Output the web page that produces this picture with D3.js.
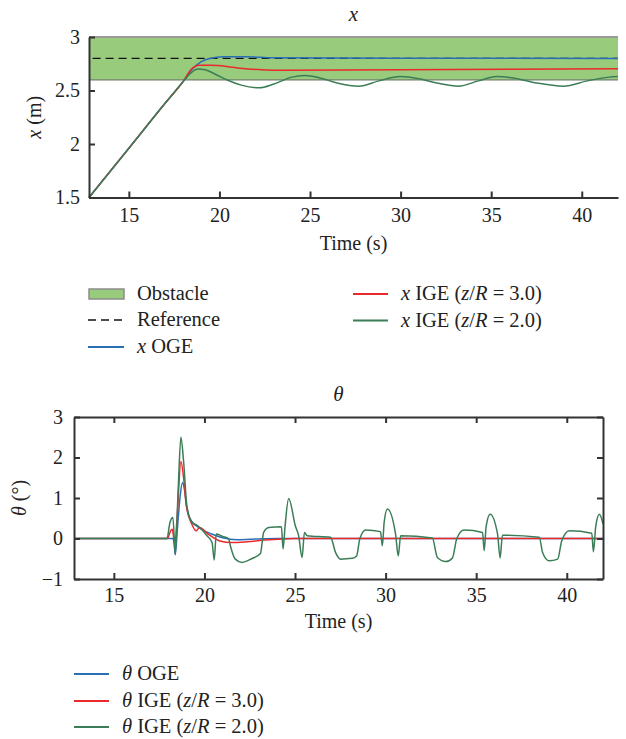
<!DOCTYPE html>
<html>
<head>
<meta charset="utf-8">
<script src="https://cdn.jsdelivr.net/npm/d3@7"></script>
<style>
  body { margin: 0; background: #fff; }
  svg text { fill: #222; }
</style>
</head>
<body>
<div id="chart"></div>
<script>
// time domain shared by both panels
const timeDomain = [12.8, 42];
const timeTicks = [15, 20, 25, 30, 35, 40];

// top panel: x position (m)
const xTicks = [1.5, 2, 2.5, 3];
const obstacleBand = [2.6, 3.0];
const referenceX = [[13, 2.8], [42, 2.8]];
const xOGE = [[12.8, 1.5], [15, 1.96], [17, 2.38], [18.0, 2.585], [18.5, 2.70], [19.0, 2.77], [19.5, 2.80],
  [20.2, 2.815], [21.5, 2.815], [23, 2.805], [42, 2.80]];
const xIGE30 = [[12.8, 1.5], [15, 1.96], [17, 2.38], [18.0, 2.585], [18.4, 2.69], [18.9, 2.735], [19.5, 2.735],
  [20.4, 2.725], [21.3, 2.705], [22.3, 2.695], [23.5, 2.69], [30, 2.693], [42, 2.703]];
const xIGE20 = [[12.8, 1.5], [15, 1.96], [17, 2.38], [18.0, 2.585], [18.4, 2.66], [18.8, 2.70], [19.2, 2.695],
  [19.8, 2.65], [20.4, 2.60], [21.2, 2.55], [22.2, 2.525], [23.0, 2.56], [24.0, 2.625], [24.7, 2.64],
  [25.5, 2.62], [26.5, 2.57], [27.7, 2.54], [28.8, 2.59], [30.0, 2.63], [31.0, 2.61], [32.0, 2.57],
  [33.2, 2.54], [34.3, 2.59], [35.3, 2.63], [36.3, 2.615], [37.5, 2.57], [39.0, 2.54], [40.3, 2.59],
  [41.5, 2.625], [42, 2.63]];

// bottom panel: theta (deg)
const thetaTicks = [-1, 0, 1, 2, 3];
const thetaOGE = [[12.8, 0], [18.25, 0], [18.32, -0.1], [18.39, -0.4], [18.5, 0.2], [18.65, 1.0],
  [18.79, 1.38], [18.9, 1.2], [19.03, 0.75], [19.3, 0.42], [19.8, 0.24], [20.4, 0.11], [21.0, 0.02],
  [21.8, -0.03], [23.0, -0.01], [24, 0], [42, 0]];
const thetaIGE30 = [[12.8, 0], [17.95, 0], [18.15, 0.2], [18.22, 0.23], [18.37, -0.14], [18.5, 0.6],
  [18.7, 1.9], [18.85, 1.5], [19.0, 0.81], [19.3, 0.36], [19.55, 0.19], [19.73, 0.27], [20.2, 0.11],
  [20.85, -0.06], [21.5, -0.1], [22.35, -0.08], [23.3, -0.04], [25, 0], [42, 0]];
const thetaIGE20 = [[12.8, 0], [17.93, 0], [18.1, 0.4], [18.26, 0.52], [18.39, -0.39], [18.55, 1.2],
  [18.7, 2.5], [18.85, 1.9], [19.03, 0.81], [19.31, 0.4], [19.58, 0.33], [19.9, 0.2], [20.14, 0.07],
  [20.42, -0.1], [20.54, -0.53], [20.65, 0.11], [21.0, 0.05], [21.33, 0], [21.43, -0.18], [21.7, -0.51],
  [22.07, -0.59], [22.6, -0.5], [23.09, -0.37], [23.27, 0.15], [23.55, 0.27], [24.25, 0.29], [24.34, -0.26],
  [24.45, 0.3], [24.65, 0.99], [25.02, 0.31], [25.2, 0.07], [25.39, -0.47], [25.52, 0.15], [25.67, 0.07],
  [26.96, 0.03], [27.24, -0.35], [27.51, -0.51], [28.16, -0.49], [28.4, -0.43], [28.58, 0], [28.9, 0.21],
  [29.72, 0.17], [29.82, -0.18], [29.92, 0.4], [30.1, 0.73], [30.55, 0.11], [30.7, -0.43], [30.83, 0.07],
  [32.58, 0.01], [32.86, -0.47], [33.32, -0.57], [33.69, -0.48], [33.93, 0], [34.33, 0.21], [35.35, 0.15],
  [35.44, -0.3], [35.55, 0.3], [35.77, 0.6], [36.18, 0.11], [36.32, -0.48], [36.45, 0.08], [38.48, 0.03],
  [38.67, -0.35], [39.03, -0.55], [39.5, -0.51], [39.72, -0.06], [40.14, 0.19], [41.38, 0.13],
  [41.47, -0.33], [41.6, 0.3], [41.8, 0.6], [42, 0.36]];

const BLUE = "#2a6fb6", RED = "#ea2a2a", GREEN = "#3b7d57", AXIS = "#333";
const SERIF = '"Liberation Serif", "Times New Roman", serif';
const FS = 20;

const svg = d3.select("#chart").append("svg")
  .attr("width", 626).attr("height", 739)
  .attr("font-family", SERIF);

function styleAxis(g) {
  g.attr("font-family", SERIF);
  g.select(".domain").attr("stroke", AXIS).attr("stroke-width", 2);
  g.selectAll(".tick line").attr("stroke", AXIS).attr("stroke-width", 2);
  g.selectAll(".tick text").attr("font-size", FS).attr("fill", "#222");
}

// ---------- top panel ----------
const box1 = {left: 89, right: 618, top: 37, bottom: 197.5};
const xs1 = d3.scaleLinear().domain(timeDomain).range([box1.left, box1.right]);
const ys1 = d3.scaleLinear().domain([1.5, 3]).range([box1.bottom, box1.top]);
const line1 = d3.line().x(d => xs1(d[0])).y(d => ys1(d[1])).curve(d3.curveMonotoneX);

const p1 = svg.append("g");
p1.append("rect")
  .attr("x", xs1(timeDomain[0])).attr("width", xs1(timeDomain[1]) - xs1(timeDomain[0]))
  .attr("y", ys1(obstacleBand[1])).attr("height", ys1(obstacleBand[0]) - ys1(obstacleBand[1]))
  .attr("fill", "#98cb7c");
p1.append("line").attr("x1", box1.left).attr("x2", box1.right)
  .attr("y1", ys1(obstacleBand[1])).attr("y2", ys1(obstacleBand[1]))
  .attr("stroke", "#9a9a9a").attr("stroke-width", 2);
p1.append("line").attr("x1", box1.left).attr("x2", box1.right)
  .attr("y1", ys1(obstacleBand[0])).attr("y2", ys1(obstacleBand[0]))
  .attr("stroke", "#6f7f68").attr("stroke-width", 1.2);

p1.append("path").datum(referenceX).attr("d", line1).attr("fill", "none")
  .attr("stroke", "#111").attr("stroke-width", 1.4).attr("stroke-dasharray", "8,5");
[[xOGE, BLUE], [xIGE30, RED], [xIGE20, GREEN]].forEach(([data, c]) => {
  p1.append("path").datum(data).attr("d", line1).attr("fill", "none")
    .attr("stroke", c).attr("stroke-width", 1.5);
});

p1.append("g").attr("transform", `translate(0,${box1.bottom})`)
  .call(d3.axisBottom(xs1).tickValues(timeTicks).tickSizeInner(-6).tickSizeOuter(0).tickPadding(10))
  .call(styleAxis);
p1.append("g").attr("transform", `translate(${box1.left},0)`)
  .call(d3.axisLeft(ys1).tickValues(xTicks).tickFormat(d3.format("~g")).tickSizeInner(-6).tickSizeOuter(0).tickPadding(9))
  .call(styleAxis);

p1.append("text").attr("x", (box1.left + box1.right) / 2).attr("y", 21)
  .attr("text-anchor", "middle").attr("font-size", FS + 1).attr("font-style", "italic").text("x");
p1.append("text").attr("x", (box1.left + box1.right) / 2).attr("y", 250)
  .attr("text-anchor", "middle").attr("font-size", FS).text("Time (s)");
const yl1 = p1.append("text").attr("transform", `translate(41,${(box1.top + box1.bottom) / 2}) rotate(-90)`)
  .attr("text-anchor", "middle").attr("font-size", FS);
yl1.append("tspan").attr("font-style", "italic").text("x");
yl1.append("tspan").text(" (m)");

// legend 1
const leg1 = svg.append("g").attr("font-size", FS + 0.5);
leg1.append("rect").attr("x", 89).attr("y", 289).attr("width", 35).attr("height", 10)
  .attr("fill", "#98cb7c").attr("stroke", "#8c8c8c").attr("stroke-width", 1.5);
leg1.append("text").attr("x", 137).attr("y", 300).text("Obstacle");
leg1.append("line").attr("x1", 88).attr("x2", 124).attr("y1", 320).attr("y2", 320)
  .attr("stroke", "#111").attr("stroke-width", 1.4).attr("stroke-dasharray", "8,5");
leg1.append("text").attr("x", 137).attr("y", 326).text("Reference");
leg1.append("line").attr("x1", 88).attr("x2", 124).attr("y1", 347).attr("y2", 347)
  .attr("stroke", BLUE).attr("stroke-width", 2);
const t13 = leg1.append("text").attr("x", 137).attr("y", 353);
t13.append("tspan").attr("font-style", "italic").text("x");
t13.append("tspan").text(" OGE");
[["3.0", RED, 294], ["2.0", GREEN, 320.5]].forEach(([v, c, y]) => {
  leg1.append("line").attr("x1", 353).attr("x2", 388).attr("y1", y).attr("y2", y)
    .attr("stroke", c).attr("stroke-width", 2);
  const t = leg1.append("text").attr("x", 401).attr("y", y + 6);
  t.append("tspan").attr("font-style", "italic").text("x");
  t.append("tspan").text(" IGE (");
  t.append("tspan").attr("font-style", "italic").text("z");
  t.append("tspan").text("/");
  t.append("tspan").attr("font-style", "italic").text("R");
  t.append("tspan").text(` = ${v})`);
});

// ---------- bottom panel ----------
const box2 = {left: 74, right: 603, top: 417, bottom: 579};
const xs2 = d3.scaleLinear().domain(timeDomain).range([box2.left, box2.right]);
const ys2 = d3.scaleLinear().domain([-1, 3]).range([box2.bottom, box2.top]);
const line2 = d3.line().x(d => xs2(d[0])).y(d => ys2(d[1])).curve(d3.curveMonotoneX);

const p2 = svg.append("g");
[[thetaOGE, BLUE], [thetaIGE30, RED], [thetaIGE20, GREEN]].forEach(([data, c]) => {
  p2.append("path").datum(data).attr("d", line2).attr("fill", "none")
    .attr("stroke", c).attr("stroke-width", 1.5);
});

p2.append("g").attr("transform", `translate(0,${box2.bottom})`)
  .call(d3.axisBottom(xs2).tickValues(timeTicks).tickSizeInner(-6).tickSizeOuter(0).tickPadding(9))
  .call(styleAxis);
p2.append("g").attr("transform", `translate(0,${box2.top})`)
  .call(d3.axisTop(xs2).tickValues(timeTicks).tickFormat("").tickSizeInner(-6).tickSizeOuter(0))
  .call(styleAxis);
p2.append("g").attr("transform", `translate(${box2.left},0)`)
  .call(d3.axisLeft(ys2).tickValues(thetaTicks).tickFormat(d3.format("d")).tickSizeInner(-6).tickSizeOuter(0).tickPadding(11))
  .call(styleAxis);
p2.append("g").attr("transform", `translate(${box2.right},0)`)
  .call(d3.axisRight(ys2).tickValues(thetaTicks).tickFormat("").tickSizeInner(-6).tickSizeOuter(0))
  .call(styleAxis);

p2.append("text").attr("x", (box2.left + box2.right) / 2).attr("y", 401)
  .attr("text-anchor", "middle").attr("font-size", FS + 1).attr("font-style", "italic").text("θ");
p2.append("text").attr("x", (box2.left + box2.right) / 2).attr("y", 628)
  .attr("text-anchor", "middle").attr("font-size", FS).text("Time (s)");
const yl2 = p2.append("text").attr("transform", `translate(26,${(box2.top + box2.bottom) / 2}) rotate(-90)`)
  .attr("text-anchor", "middle").attr("font-size", FS);
yl2.append("tspan").attr("font-style", "italic").text("θ");
yl2.append("tspan").text(" (°)");

// legend 2
const leg2 = svg.append("g").attr("font-size", FS + 0.5);
[["OGE", BLUE, 674], ["IGE (z/R = 3.0)", RED, 701], ["IGE (z/R = 2.0)", GREEN, 727]].forEach(([label, c, y]) => {
  leg2.append("line").attr("x1", 74).attr("x2", 109).attr("y1", y).attr("y2", y)
    .attr("stroke", c).attr("stroke-width", 2);
  const t = leg2.append("text").attr("x", 122).attr("y", y + 6);
  t.append("tspan").attr("font-style", "italic").text("θ");
  if (label === "OGE") {
    t.append("tspan").text(" OGE");
  } else {
    t.append("tspan").text(" IGE (");
    t.append("tspan").attr("font-style", "italic").text("z");
    t.append("tspan").text("/");
    t.append("tspan").attr("font-style", "italic").text("R");
    t.append("tspan").text(label.slice(label.indexOf(" =")));
  }
});
</script>
</body>
</html>
